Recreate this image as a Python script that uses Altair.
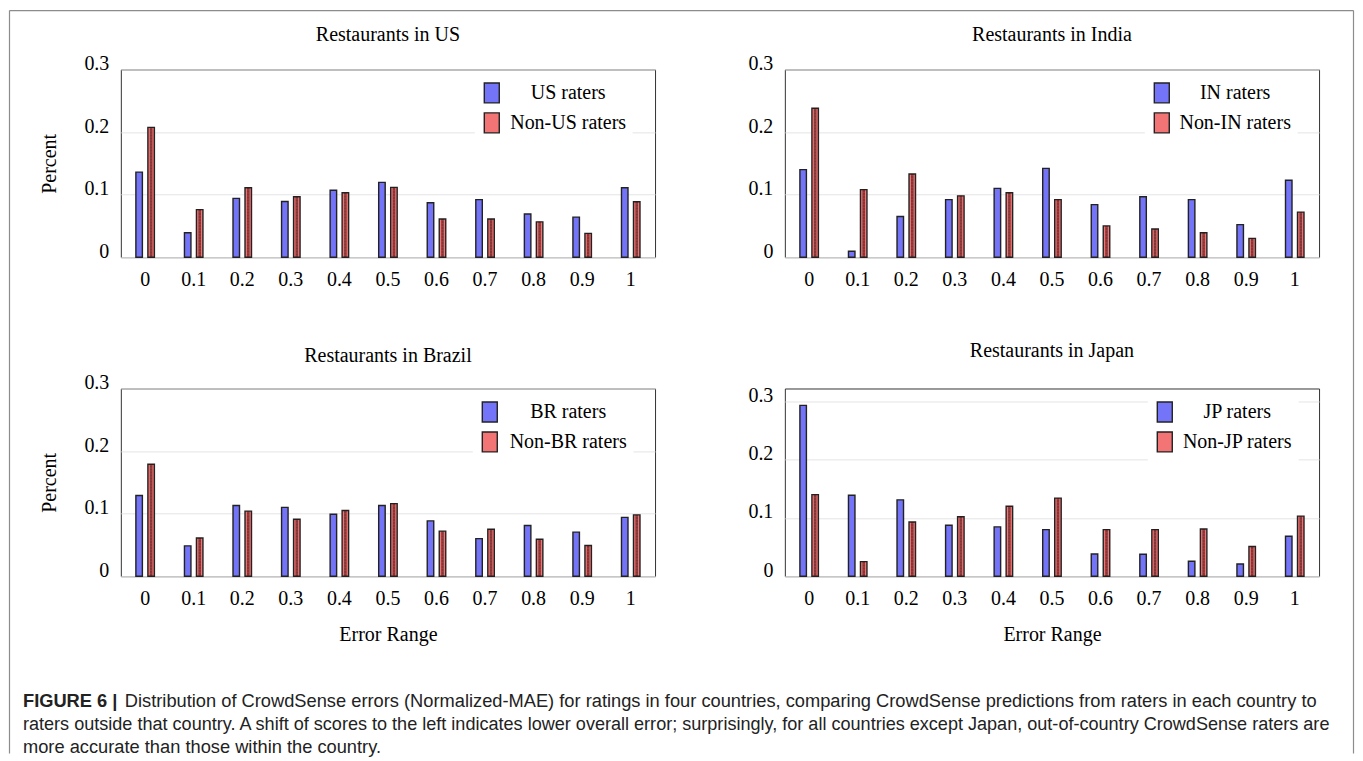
import altair as alt
import pandas as pd

CATS = ["0", "0.1", "0.2", "0.3", "0.4", "0.5", "0.6", "0.7", "0.8", "0.9", "1"]

US_IN = [0.136, 0.039, 0.094, 0.089, 0.107, 0.1195, 0.087, 0.092, 0.069, 0.064, 0.111]
US_OUT = [0.2075, 0.076, 0.111, 0.0965, 0.103, 0.1115, 0.061, 0.061, 0.0565, 0.038, 0.0885]
IN_IN = [0.140, 0.0096, 0.065, 0.092, 0.110, 0.142, 0.084, 0.0965, 0.092, 0.052, 0.123]
IN_OUT = [0.238, 0.108, 0.133, 0.098, 0.103, 0.092, 0.050, 0.045, 0.039, 0.030, 0.072]
BR_IN = [0.129, 0.0485, 0.113, 0.110, 0.099, 0.113, 0.0885, 0.060, 0.081, 0.0704, 0.094]
BR_OUT = [0.179, 0.061, 0.104, 0.091, 0.105, 0.116, 0.072, 0.075, 0.059, 0.049, 0.098]
JP_IN = [0.293, 0.139, 0.131, 0.0874, 0.0846, 0.080, 0.038, 0.0377, 0.0257, 0.021, 0.0686]
JP_OUT = [0.140, 0.025, 0.093, 0.102, 0.120, 0.134, 0.080, 0.080, 0.081, 0.051, 0.103]

TITLES = ["Restaurants in US", "Restaurants in India", "Restaurants in Brazil", "Restaurants in Japan"]
CODES = ["US", "IN", "BR", "JP"]

CAP_BOLD = "FIGURE 6 |"
CAP_L1 = ("Distribution of CrowdSense errors (Normalized-MAE) for ratings in four countries, "
          "comparing CrowdSense predictions from raters in each country to")
CAP_L2 = ("raters outside that country. A shift of scores to the left indicates lower overall error; "
          "surprisingly, for all countries except Japan, out-of-country CrowdSense raters are")
CAP_L3 = "more accurate than those within the country."

BLUE = "#7474F8"
RED = "#F27474"
SERIF = "Liberation Serif"
SANS = "Liberation Sans"
W, H = 535, 188


def panel(title, code, v_in, v_out, ymax, ytitle, xtitle, legend_x, label_off, title_off):
    home = f"{code} raters"
    non = f"Non-{code} raters"
    df = pd.DataFrame({
        "range": CATS * 2,
        "series": [home] * len(CATS) + [non] * len(CATS),
        "value": v_in + v_out,
    })
    xscale = alt.Scale(domain=CATS, paddingInner=0.619, paddingOuter=0.31)
    xoscale = alt.Scale(domain=[home, non], paddingInner=0.458, paddingOuter=0)
    yscale = alt.Scale(domain=[0, ymax], nice=False, zero=True)
    xaxis = alt.Axis(title="Error Range" if xtitle else "", labelAngle=0, ticks=False,
                     domain=False, labelPadding=12, titlePadding=16)
    yaxis = alt.Axis(title="Percent" if ytitle else "", values=[0, 0.1, 0.2, 0.3],
                     format="~g", ticks=False, domain=False, labelPadding=12,
                     labelOffset=-6, titlePadding=24, grid=True, gridColor="#e4e4e4")
    enc = dict(
        x=alt.X("range:N", scale=xscale, axis=xaxis),
        xOffset=alt.XOffset("series:N", scale=xoscale),
        y=alt.Y("value:Q", scale=yscale, axis=yaxis),
    )
    bars = alt.Chart(df).mark_bar(stroke="#222222", strokeWidth=1.4).encode(
        color=alt.Color("series:N", scale=alt.Scale(domain=[home, non], range=[BLUE, RED]),
                        legend=alt.Legend(title=None, orient="none", legendX=legend_x,
                                          legendY=6.5, padding=6, fillColor="white",
                                          symbolType="M-0.75,-1H0.75V1H-0.75Z",
                                          symbolSize=400, symbolStrokeColor="#222222",
                                          symbolStrokeWidth=1.4, symbolOpacity=1,
                                          labelAlign="center", labelOffset=label_off,
                                          rowPadding=4, labelFontSize=20, labelFont=SERIF,
                                          labelColor="black")),
        **enc,
    )
    hatch_a = alt.Chart(df).transform_filter(alt.datum.series == non).mark_rule(
        strokeWidth=2.6, strokeDash=[1.5, 1.5], color="#3a0e0e", opacity=0.6, xOffset=-1.4
    ).encode(y2=alt.datum(0), **enc)
    hatch_b = alt.Chart(df).transform_filter(alt.datum.series == non).mark_rule(
        strokeWidth=2.6, strokeDash=[1.5, 1.5], strokeDashOffset=1.5, color="#3a0e0e",
        opacity=0.6, xOffset=1.4
    ).encode(y2=alt.datum(0), **enc)
    return alt.layer(bars, hatch_a, hatch_b).properties(
        width=W, height=H,
        title=alt.TitleParams(title, font=SERIF, fontSize=20, fontWeight="normal",
                              color="black", offset=title_off, anchor="middle", frame="group"),
    )


p_us = panel(TITLES[0], CODES[0], US_IN, US_OUT, 0.3, True, False, 354.5, 65.5, 8.5)
p_in = panel(TITLES[1], CODES[1], IN_IN, IN_OUT, 0.3, False, False, 360.5, 62.5, 8.5)
p_br = panel(TITLES[2], CODES[2], BR_IN, BR_OUT, 0.3, True, True, 352.5, 67.5, 7)
p_jp = panel(TITLES[3], CODES[3], JP_IN, JP_OUT, 0.322, False, True, 363.5, 61.5, 24)

one = pd.DataFrame({"k": [0]})
cap_h = 46
txt = dict(font=SANS, color="#222222", align="left", baseline="middle")
c_bold = alt.Chart(one).mark_text(text=CAP_BOLD, fontWeight="bold", fontSize=18.3, **txt).encode(
    x=alt.value(-98), y=alt.value(-5.5))
c_l1 = alt.Chart(one).mark_text(text=CAP_L1, fontSize=18.3, **txt).encode(
    x=alt.value(4), y=alt.value(-5.5))
c_l2 = alt.Chart(one).mark_text(text=CAP_L2, fontSize=18.1, **txt).encode(
    x=alt.value(-98), y=alt.value(18))
c_l3 = alt.Chart(one).mark_text(text=CAP_L3, fontSize=18.3, **txt).encode(
    x=alt.value(-98), y=alt.value(41))
frame_style = dict(color="#8c8c8c", strokeWidth=1.2)
f_top = alt.Chart(one).mark_rule(**frame_style).encode(
    x=alt.value(-111.5), x2=alt.value(1234.5), y=alt.value(-698), y2=alt.value(-698))
f_left = alt.Chart(one).mark_rule(**frame_style).encode(
    x=alt.value(-111.5), y=alt.value(-698), y2=alt.value(cap_h))
f_right = alt.Chart(one).mark_rule(**frame_style).encode(
    x=alt.value(1234.5), y=alt.value(-698), y2=alt.value(cap_h))
caption = alt.layer(c_bold, c_l1, c_l2, c_l3, f_top, f_left, f_right).properties(
    width=W, height=cap_h, view=alt.ViewBackground(stroke="transparent"))

chart = alt.concat(p_us, p_in, p_br, p_jp, caption, columns=2, bounds="flush",
                   spacing={"row": 131.5, "column": 130}).resolve_scale(
    x="independent", y="independent", xOffset="independent", color="independent"
).resolve_axis(x="independent", y="independent").resolve_legend(
    color="independent"
).properties(
    padding={"left": 0, "top": 0, "right": 0, "bottom": 0}
).configure_view(stroke="#333333", strokeWidth=1).configure_axis(
    labelFont=SERIF, titleFont=SERIF, labelFontSize=20, titleFontSize=20,
    labelColor="black", titleColor="black", titleFontWeight="normal"
)

chart.save("out.html", embed_options={"renderer": "svg", "actions": False})
